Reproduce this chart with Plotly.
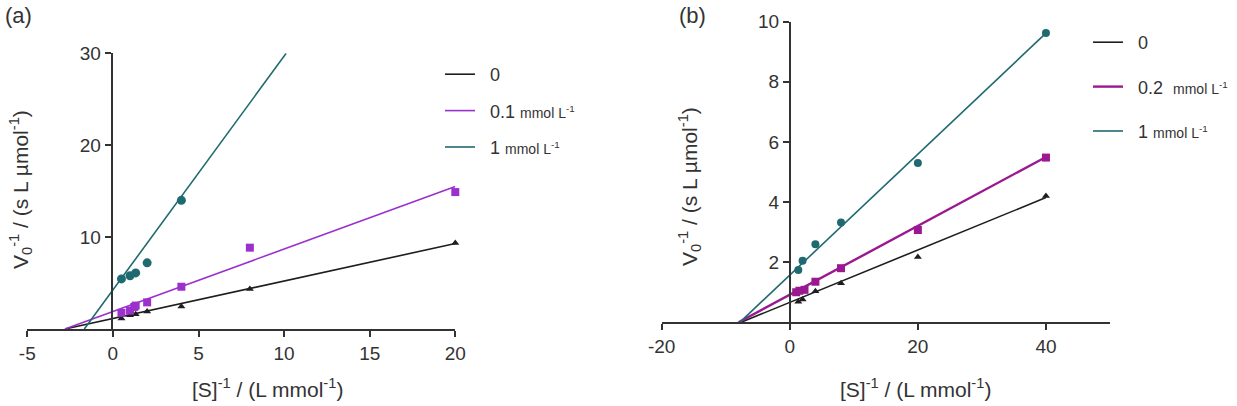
import plotly.graph_objects as go

# ---------------- data: panel (a) ----------------
a_x_ctrl = [0.5, 1.0, 1.33, 2.0, 4.0, 8.0, 20.0]
a_y_ctrl = [1.15, 1.5, 1.6, 1.9, 2.45, 4.35, 9.35]
a_x_01 = [0.5, 1.0, 1.25, 1.33, 2.0, 4.0, 8.0, 20.0]
a_y_01 = [1.75, 2.0, 2.4, 2.55, 2.9, 4.6, 8.85, 14.9]
a_x_1 = [0.5, 1.0, 1.33, 2.0, 4.0]
a_y_1 = [5.45, 5.8, 6.1, 7.2, 14.0]
# fitted lines (end points)
a_fit_x_ctrl = [-2.8, 20.0]
a_fit_y_ctrl = [0.0, 9.3]
a_fit_x_01 = [-2.8, 20.0]
a_fit_y_01 = [0.0, 15.5]
a_fit_x_1 = [-1.67, 10.12]
a_fit_y_1 = [0.0, 30.0]
a_xticks = [-5, 0, 5, 10, 15, 20]
a_xticklabels = ["-5", "0", "5", "10", "15", "20"]
a_yticks = [10, 20, 30]

# ---------------- data: panel (b) ----------------
b_x_ctrl = [1.33, 2.0, 4.0, 8.0, 20.0, 40.0]
b_y_ctrl = [0.68, 0.76, 1.03, 1.3, 2.17, 4.2]
b_x_02 = [1.0, 1.5, 2.3, 4.0, 8.0, 20.0, 40.0]
b_y_02 = [1.0, 1.05, 1.08, 1.35, 1.8, 3.07, 5.48]
b_x_1 = [1.33, 2.0, 4.0, 8.0, 20.0, 40.0]
b_y_1 = [1.74, 2.05, 2.6, 3.32, 5.3, 9.62]
b_fit_x_ctrl = [-7.6, 40.0]
b_fit_y_ctrl = [0.0, 4.15]
b_fit_x_02 = [-8.0, 40.0]
b_fit_y_02 = [0.0, 5.5]
b_fit_x_1 = [-7.8, 40.0]
b_fit_y_1 = [0.0, 9.62]
b_xticks = [-20, 0, 20, 40]
b_xticklabels = ["-20", "0", "20", "40"]
b_yticks = [2, 4, 6, 8, 10]

SMALL = "<span style='font-size:14px'>mmol L<sup>-1</sup></span>"
PAD = "\u00a0\u00a0"
names_a = [PAD + "0", PAD + "0.1 " + SMALL, PAD + "1 " + SMALL]
names_b = [PAD + "0", PAD + "0.2  " + SMALL, PAD + "1 " + SMALL]

BLACK = "#1e1e1e"
PURPLE_A = "#9b30cc"
PURPLE_B = "#9a1890"
TEAL = "#1f6a70"
AX = "#333333"
FONT = "Liberation Sans, Arial, sans-serif"

W, H = 1237, 406

fig = go.Figure()

def add_series(xs, ys, fx, fy, color, symbol, msize, lw, name, xa, ya, leg, grp):
    fig.add_trace(go.Scatter(x=fx, y=fy, mode="lines", line=dict(color=color, width=lw),
                             name=name, legend=leg, legendgroup=grp, xaxis=xa, yaxis=ya,
                             showlegend=True, hoverinfo="skip"))
    fig.add_trace(go.Scatter(x=xs, y=ys, mode="markers",
                             marker=dict(color=color, symbol=symbol, size=msize),
                             xaxis=xa, yaxis=ya, showlegend=False, cliponaxis=False,
                             name=name, legendgroup=grp))

add_series(a_x_ctrl, a_y_ctrl, a_fit_x_ctrl, a_fit_y_ctrl, BLACK, "triangle-up", 7, 1.6, names_a[0], "x", "y", "legend", "a0")
add_series(a_x_01, a_y_01, a_fit_x_01, a_fit_y_01, PURPLE_A, "square", 8, 1.6, names_a[1], "x", "y", "legend", "a1")
add_series(a_x_1, a_y_1, a_fit_x_1, a_fit_y_1, TEAL, "circle", 9, 1.6, names_a[2], "x", "y", "legend", "a2")

add_series(b_x_ctrl, b_y_ctrl, b_fit_x_ctrl, b_fit_y_ctrl, BLACK, "triangle-up", 7, 1.6, names_b[0], "x2", "y2", "legend2", "b0")
add_series(b_x_02, b_y_02, b_fit_x_02, b_fit_y_02, PURPLE_B, "square", 8, 2.4, names_b[1], "x2", "y2", "legend2", "b1")
add_series(b_x_1, b_y_1, b_fit_x_1, b_fit_y_1, TEAL, "circle", 8, 1.6, names_b[2], "x2", "y2", "legend2", "b2")

def px_x(p):
    return p / W

def px_y(p):
    return 1 - p / H

common = dict(showline=True, linewidth=2, linecolor=AX, ticks="outside", ticklen=6,
              tickwidth=2, tickcolor=AX, showgrid=False, zeroline=False, automargin=False,
              tickfont=dict(family=FONT, size=19, color="#333333"))

fig.update_layout(
    width=W, height=H, margin=dict(l=0, r=0, t=0, b=0, autoexpand=False),
    paper_bgcolor="white", plot_bgcolor="white",
    font=dict(family=FONT, color="#333333"),
    xaxis=dict(domain=[px_x(27.3), px_x(455.3)], range=[-5, 20], tickvals=a_xticks,
               ticktext=a_xticklabels, anchor="y", **common),
    yaxis=dict(domain=[px_y(329), px_y(53.3)], range=[0, 30], tickvals=a_yticks,
               anchor="free", position=px_x(111.7), **common),
    xaxis2=dict(domain=[px_x(661.7), px_x(1110)], range=[-20, 50], tickvals=b_xticks,
                ticktext=b_xticklabels, anchor="y2", **common),
    yaxis2=dict(domain=[px_y(322.3), px_y(21.7)], range=[0, 10], tickvals=b_yticks,
                anchor="free", position=px_x(790), **common),
    legend=dict(x=px_x(440), y=px_y(56), xanchor="left", yanchor="top",
                bgcolor="rgba(0,0,0,0)", font=dict(family=FONT, size=18, color="#333333"),
                tracegroupgap=10, itemwidth=30),
    legend2=dict(x=px_x(1088), y=px_y(24), xanchor="left", yanchor="top",
                 bgcolor="rgba(0,0,0,0)", font=dict(family=FONT, size=18, color="#333333"),
                 tracegroupgap=18, itemwidth=30),
    showlegend=True,
)

ann_font = dict(family=FONT, size=21, color="#333333")
lab_font = dict(family=FONT, size=22, color="#333333")
fig.add_annotation(text="(a)", x=px_x(3), y=px_y(16), xref="paper", yref="paper",
                   xanchor="left", yanchor="middle", showarrow=False, font=lab_font)
fig.add_annotation(text="(b)", x=px_x(677), y=px_y(16), xref="paper", yref="paper",
                   xanchor="left", yanchor="middle", showarrow=False, font=lab_font)
fig.add_annotation(text="[S]<sup>-1</sup> / (L mmol<sup>-1</sup>)", x=px_x(267), y=px_y(388),
                   xref="paper", yref="paper", xanchor="center", yanchor="middle",
                   showarrow=False, font=ann_font)
fig.add_annotation(text="[S]<sup>-1</sup> / (L mmol<sup>-1</sup>)", x=px_x(915), y=px_y(388),
                   xref="paper", yref="paper", xanchor="center", yanchor="middle",
                   showarrow=False, font=ann_font)
fig.add_annotation(text="V<sub>0</sub><sup>-1</sup> / (s L µmol<sup>-1</sup>)", x=px_x(20), y=px_y(190),
                   xref="paper", yref="paper", xanchor="center", yanchor="middle",
                   textangle=-90, showarrow=False, font=ann_font)
fig.add_annotation(text="V<sub>0</sub><sup>-1</sup> / (s L µmol<sup>-1</sup>)", x=px_x(689), y=px_y(187),
                   xref="paper", yref="paper", xanchor="center", yanchor="middle",
                   textangle=-90, showarrow=False, font=ann_font)

fig.write_html("out.html")
